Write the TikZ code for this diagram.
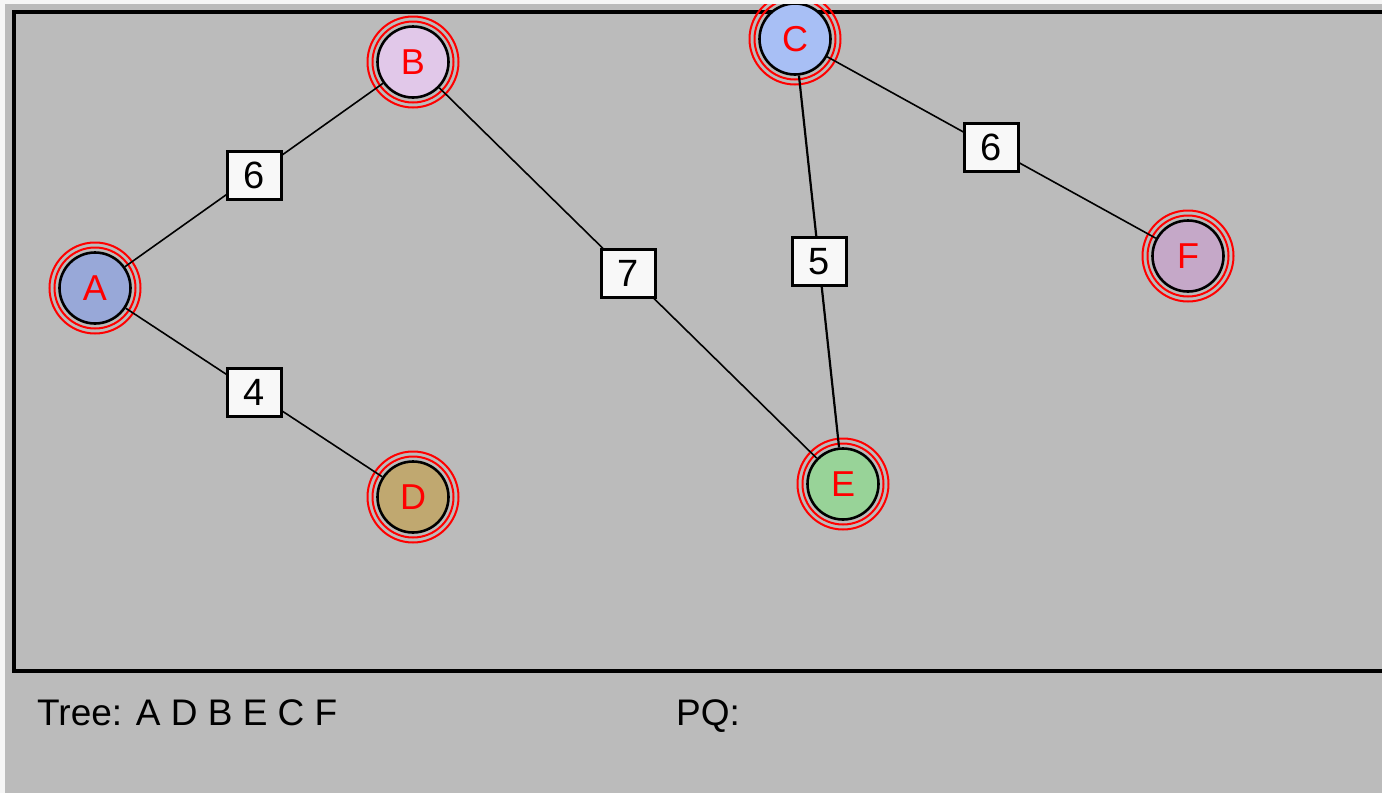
\documentclass[tikz,border=0pt]{standalone}
\usepackage{fontspec}
\setmainfont{Liberation Sans}
\usetikzlibrary{positioning}

\definecolor{panel}{RGB}{187,187,187}
\definecolor{edge}{RGB}{246,246,246}
\definecolor{boxwhite}{RGB}{248,248,248}
\definecolor{colA}{RGB}{152,168,216}
\definecolor{colB}{RGB}{225,200,233}
\definecolor{colC}{RGB}{168,191,245}
\definecolor{colD}{RGB}{192,168,112}
\definecolor{colE}{RGB}{152,211,152}
\definecolor{colF}{RGB}{197,168,200}

\begin{document}
\begin{tikzpicture}[x=1pt, y=-1pt,
		v/.style={circle, draw, line width=2.6pt, minimum size=71pt, inner sep=0pt, text=red, font=\fontsize{36}{40}\selectfont},
		w/.style={rectangle, draw, line width=3pt, fill=boxwhite, minimum width=54pt, minimum height=48pt, inner sep=0pt, font=\fontsize{38}{40}\selectfont},
		ring/.style={draw=red, line width=2pt},
		link/.style={line width=1.6pt},
		caption/.style={anchor=base west, inner sep=0pt, font=\fontsize{37}{40}\selectfont}]
		\useasboundingbox (0,0) rectangle (1382,793);
		\fill[edge] (0,0) rectangle (1382,793);
		\fill[panel] (5,4) rectangle (1382,793);

		\begin{scope}
			\clip (5,4) rectangle (1382,793);
			\draw[line width=4pt] (14,12) rectangle (1400,670.5);

			\node [v, fill=colA] (A) at (95,288) {A};
			\node [v, fill=colB] (B) at (413,62) {B};
			\node [v, fill=colC] (C) at (795,39) {C};
			\node [v, fill=colD] (D) at (413,497) {D};
			\node [v, fill=colE] (E) at (843,484) {E};
			\node [v, fill=colF] (F) at (1188,256) {F};

			% two red rings round every vertex of the tree
			\foreach \n in {A,B,C,D,E,F}
				\draw[ring] (\n) circle (40.5pt) (\n) circle (45.5pt);

			\path[link] (A) edge node [w] {6} (B);
			\path[link] (A) edge node [w] {4} (D);
			\path[link] (B) edge node [w] {7} (E);
			\path[link, line width=2.2pt] (C) edge node [w] {5} (E);
			\path[link] (C) edge node [w] {6} (F);
		\end{scope}

		\node [caption] (tree) at (37,725) {Tree: A D B E C F};
		\node [caption] (pq) at (676,725) {PQ:};
	\end{tikzpicture}
\end{document}
